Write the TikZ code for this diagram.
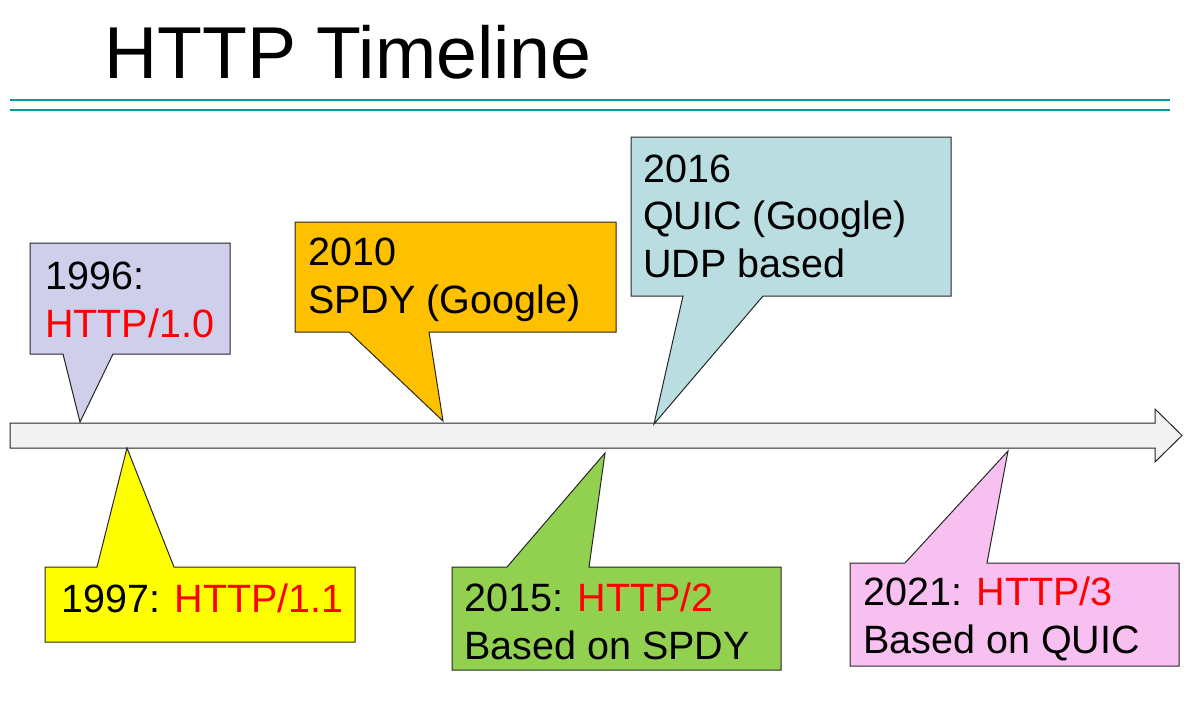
\documentclass[tikz,border=0pt]{standalone}
\usepackage{fontspec}
\setmainfont{Liberation Sans}
\definecolor{rulecol}{HTML}{009A9A}
\definecolor{barfill}{HTML}{F2F2F2}
\definecolor{lavender}{HTML}{CFCFEC}
\definecolor{amber}{HTML}{FFC000}
\definecolor{paleblue}{HTML}{BADDE2}
\definecolor{brightyellow}{HTML}{FFFF00}
\definecolor{leaf}{HTML}{92D050}
\definecolor{pink}{HTML}{F8C0F0}
\definecolor{vred}{HTML}{FF0000}
\begin{document}
\begin{tikzpicture}[x=1pt,y=-1pt,
  bubble/.style={draw=black!85, line width=1pt, line join=miter},
  % multi-line labels are placed by the baseline of their last line
  lbl/.style={anchor=base west, inner sep=0pt, align=left,
              font=\fontsize{39.5}{47.5}\selectfont},
  rulestyle/.style={draw=rulecol, line width=2.5pt},
]
\useasboundingbox (0,0) rectangle (1187,721);

% title and the two rules under it
\node[anchor=base west, inner sep=0pt, font=\fontsize{73.5}{88}\selectfont] (title) at (104,78) {HTTP Timeline};
\coordinate (r1a) at (10,100); \coordinate (r1b) at (1170,100);
\coordinate (r2a) at (10,110); \coordinate (r2b) at (1170,110);
\draw[rulestyle] (r1a) -- (r1b);
\draw[rulestyle] (r2a) -- (r2b);

% the time axis as a block arrow
\draw[bubble, fill=barfill] (10,423) -- (1155,423) -- (1155,409) -- (1182,435.5)
  -- (1155,462) -- (1155,448) -- (10,448) -- cycle;

% callouts above the axis
\draw[bubble, fill=lavender] (30,243) -- (230,243) -- (230,354) -- (113,354)
  -- (80,422) -- (63,354) -- (30,354) -- cycle;
\node[lbl] (y1996) at (45,337) {1996:\\\textcolor{vred}{HTTP/1.0}};

\draw[bubble, fill=amber] (295,222) -- (616,222) -- (616,332) -- (429,332)
  -- (443,421) -- (349,332) -- (295,332) -- cycle;
\node[lbl] (y2010) at (308,313) {2010\\SPDY (Google)};

\draw[bubble, fill=paleblue] (631,137) -- (951,137) -- (951,296) -- (763,296)
  -- (654,424) -- (683,296) -- (631,296) -- cycle;
\node[lbl] (y2016) at (643,277) {2016\\QUIC (Google)\\UDP based};

% callouts below the axis
\draw[bubble, fill=brightyellow] (45,567) -- (97,567) -- (127,448) -- (174,567)
  -- (355,567) -- (355,642) -- (45,642) -- cycle;
\node[lbl] (y1997) at (61,612) {1997: \textcolor{vred}{HTTP/1.1}};

\draw[bubble, fill=leaf] (452,567) -- (507,567) -- (605,453) -- (589,567)
  -- (781,567) -- (781,670) -- (452,670) -- cycle;
\node[lbl] (y2015) at (464,659) {2015: \textcolor{vred}{HTTP/2}\\Based on SPDY};

\draw[bubble, fill=pink] (850,563) -- (905,563) -- (1008,451) -- (987,563)
  -- (1179,563) -- (1179,666) -- (850,666) -- cycle;
\node[lbl] (y2021) at (863,653) {2021: \textcolor{vred}{HTTP/3}\\Based on QUIC};
\end{tikzpicture}
\end{document}
